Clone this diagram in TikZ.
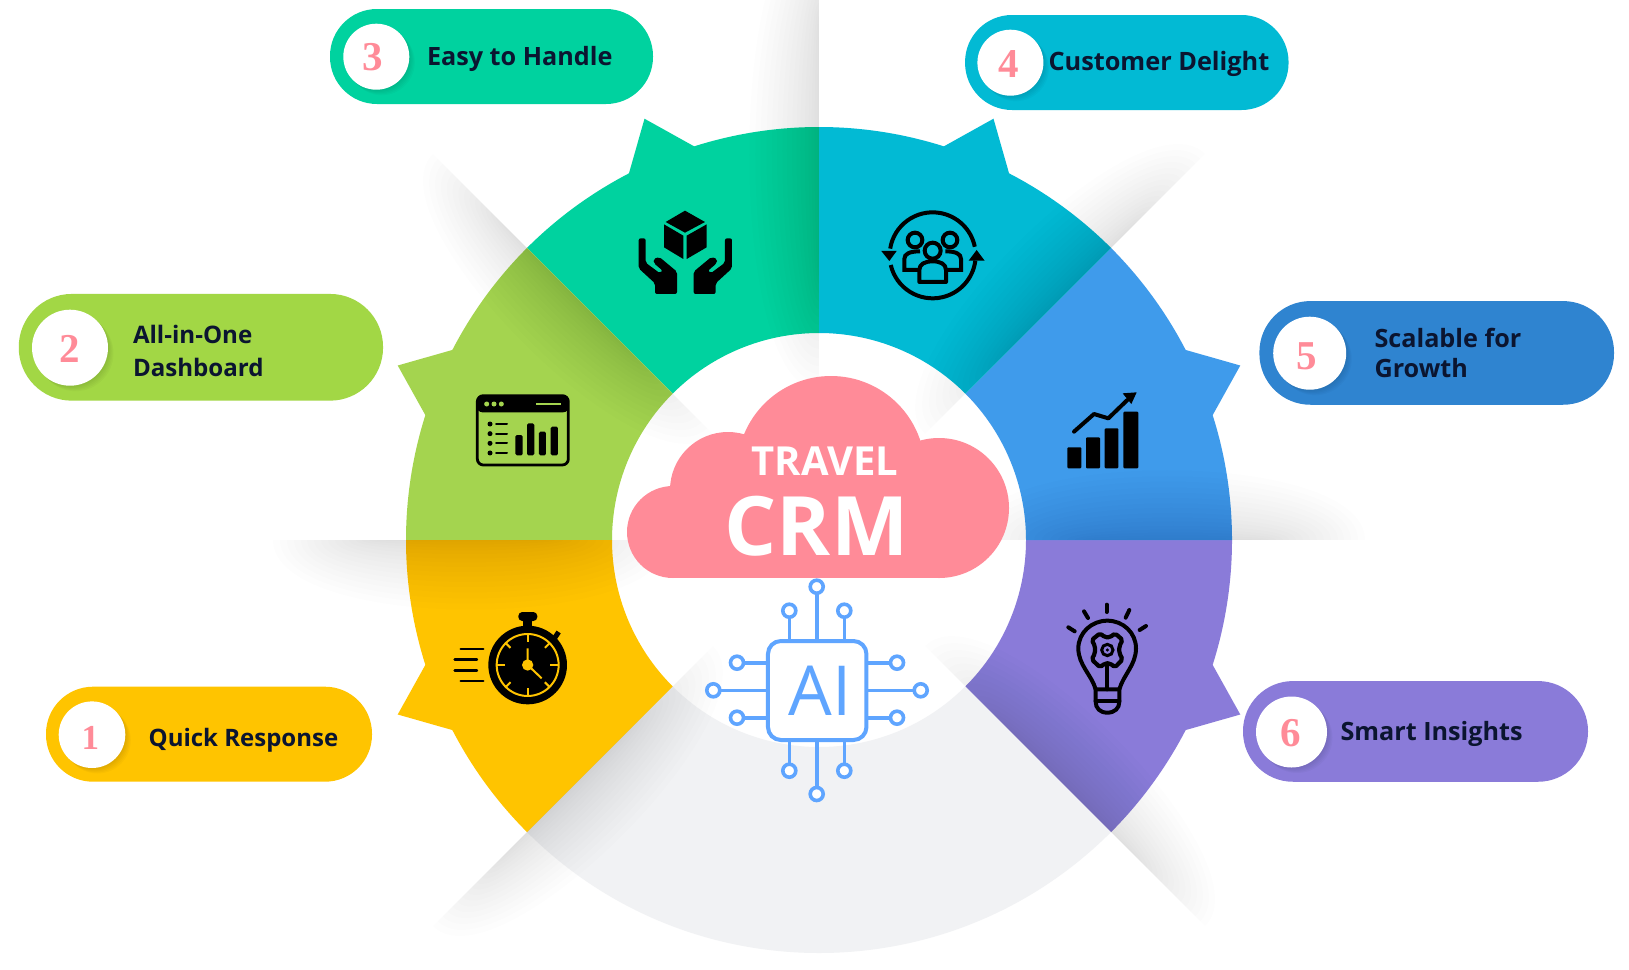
\documentclass[tikz,border=0pt]{standalone}
\usepackage{fontspec}
\setmainfont{Open Sans}
\newfontfamily\numfont{Liberation Serif}
\definecolor{cgreen}{HTML}{00D29F}
\definecolor{ccyan}{HTML}{02BAD4}
\definecolor{clime}{HTML}{A4D44F}
\definecolor{climep}{HTML}{A2D745}
\definecolor{csky}{HTML}{3F9BEB}
\definecolor{cblue}{HTML}{2F84D0}
\definecolor{cyell}{HTML}{FFC400}
\definecolor{cpurp}{HTML}{8A7BD9}
\definecolor{cgrey}{HTML}{F1F2F4}
\definecolor{cpink}{HTML}{FF8B98}
\definecolor{cnavy}{HTML}{0B1530}
\definecolor{cai}{HTML}{5FA5FF}
\tikzset{
  pillbox/.style={rectangle,inner sep=0pt,outer sep=0pt,draw=none},
  badge/.style={circle,fill=white,inner sep=0pt,outer sep=0pt,draw=none},
  digit/.style={inner sep=0pt,outer sep=0pt,text=cpink,font=\numfont\bfseries\fontsize{#1}{#1}\selectfont},
  lab/.style={anchor=base west,inner sep=0pt,outer sep=0pt,text=cnavy,font=\bfseries\fontsize{#1}{30}\selectfont},
  pinnode/.style={circle,draw=cai,fill=white,line width=3.6pt,minimum size=13pt,inner sep=0pt,outer sep=0pt},
  wire/.style={draw=cai,line width=3.6pt},
  ink/.style={line width=#1,draw=black,line cap=round,line join=round},
}
% sector with a spike in its middle; centre is the origin of the scope
\newcommand{\sectorshape}[2]{%
  \fill[#2] (#1:207) -- (#1:413)
    arc[start angle=#1,end angle={#1+17.6},radius=413]
    -- ({#1+22.5}:456) -- ({#1+27.4}:413)
    arc[start angle={#1+27.4},end angle={#1+45},radius=413]
    -- ({#1+45}:207)
    arc[start angle={#1+45},end angle=#1,radius=207] -- cycle;}
% soft shadow lens beside a radial line
\newcommand{\softshade}[3]{%
  \foreach \k in {1,...,16}{%
    \pgfmathsetmacro{\ff}{\k/16}%
    \pgfmathsetmacro{\ra}{150+(1-\ff)*130}%
    \pgfmathsetmacro{\rb}{#2-(1-\ff)*110}%
    \pgfmathsetmacro{\hh}{#3*\ff^1.35}%
    \fill[black,opacity=0.0072]
      ({\ra*cos(#1)},{\ra*sin(#1)})
      .. controls ({\ra*cos(#1)+\hh*sin(#1)},{\ra*sin(#1)-\hh*cos(#1)})
      and ({\rb*cos(#1)+\hh*sin(#1)},{\rb*sin(#1)-\hh*cos(#1)})
      .. ({\rb*cos(#1)},{\rb*sin(#1)}) -- cycle;
  }}
\newcommand{\pillitem}[8]{%
  \node[pillbox,fill=#6,minimum width=#4pt,minimum height=#5pt,rounded corners=#7pt] (#1) at (#2,#3) {};
  #8}
\newcommand{\badgeitem}[4]{%
  \foreach \k in {1,...,5}{\fill[black,opacity=0.022] ({#2+1.1*\k},{#3+1.1*\k}) circle[radius=#4];}
  \node[badge,minimum size=#4*2pt] (#1) at (#2,#3) {};}
\begin{document}
\begin{tikzpicture}[x=1pt,y=-1pt]
\useasboundingbox (0,0) rectangle (1629,969);
\clip (0,0) rectangle (1629,969);
\fill[white] (0,0) rectangle (1629,969);

\begin{scope}[shift={(819,540)}]
  \fill[cgrey] (45:207) -- (45:413) arc[start angle=45,end angle=135,radius=413]
     -- (135:207) arc[start angle=135,end angle=45,radius=207] -- cycle;
  \sectorshape{225}{cgreen}
  \sectorshape{180}{clime}
  \sectorshape{135}{cyell}
  \sectorshape{0}{cpurp}
  \sectorshape{315}{csky}
  \sectorshape{270}{ccyan}
  \softshade{270}{620}{93}
  \softshade{225}{546}{93}
  \softshade{180}{546}{93}
  \softshade{135}{546}{93}
  \softshade{45}{546}{93}
  \softshade{0}{546}{93}
  \softshade{315}{546}{93}
\end{scope}

% pills
\pillitem{p3}{491.5}{56.5}{323}{95}{cgreen}{47}{\badgeitem{b3}{376.3}{56.7}{33}}
\pillitem{p2}{200.9}{347.3}{364.3}{106.7}{climep}{53}{\badgeitem{b2}{70}{347.7}{38}}
\pillitem{p4}{1126.8}{62.5}{323.5}{95}{ccyan}{47}{\badgeitem{b4}{1010.4}{62.7}{33}}
\pillitem{p5}{1436.7}{352.9}{354.6}{103.7}{cblue}{51}{\badgeitem{b5}{1309.7}{353.2}{36.5}}
\pillitem{p1}{209}{734.2}{326}{95}{cyell}{47}{\badgeitem{b1}{92}{734.7}{33.3}}
\pillitem{p6}{1415.5}{731.4}{345}{100.7}{cpurp}{50}{\badgeitem{b6}{1291.5}{732}{35.5}}

\node[digit=41] (d3) at (372.5,57.5) {3};
\node[digit=41] (d2) at (69.6,349) {2};
\node[digit=41] (d4) at (1008.5,64) {4};
\node[digit=41] (d5) at (1306.5,356.7) {5};
\node[digit=35] (d1) at (90.4,738) {1};
\node[digit=41] (d6) at (1290.5,733.3) {6};

\node[lab=25.2] (t3) at (427,65) {Easy to Handle};
\node[lab=24.1] (t2a) at (133,343.5) {All-in-One};
\node[lab=24.1] (t2b) at (133,376) {Dashboard};
\node[lab=25.3] (t4) at (1048.5,70.5) {Customer Delight};
\node[lab=25.2] (t5a) at (1374.5,347) {Scalable for};
\node[lab=25.2] (t5b) at (1374.5,377) {Growth};
\node[lab=24] (t1) at (148.7,746) {Quick Response};
\node[lab=25.2] (t6) at (1340.5,740.5) {Smart Insights};

% cloud
\fill[cpink] (831,470) circle[radius=94];
\fill[cpink] (728,490) circle[radius=58];
\fill[cpink] (673,532) circle[radius=46];
\fill[cpink] (939,508) circle[radius=70];
\fill[cpink] (673,480) rectangle (939,578);
\node[inner sep=0pt,text=white,font=\bfseries\fontsize{40}{40}\selectfont] (travel) at (825,461.5) {TRAVEL};
\node[inner sep=0pt,text=white,font=\bfseries\fontsize{82}{82}\selectfont] (crm) at (816.5,526.5) {CRM};

% AI chip
\node[rectangle,draw=cai,fill=white,line width=4pt,rounded corners=13pt,minimum width=98.5pt,minimum height=99pt,inner sep=0pt,outer sep=0pt,text=cai,font=\fontsize{69}{69}\selectfont] (chip) at (817.2,690.5) {\hspace*{6pt}AI};
\node[pinnode] (pt1) at (816.7,586.7) {};
\node[pinnode] (pt2) at (789.3,610.7) {};
\node[pinnode] (pt3) at (844.3,610.7) {};
\node[pinnode] (pb1) at (816.7,794) {};
\node[pinnode] (pb2) at (789.3,770.7) {};
\node[pinnode] (pb3) at (844.3,770.7) {};
\node[pinnode] (pl1) at (713.3,690.3) {};
\node[pinnode] (pl2) at (737,662.7) {};
\node[pinnode] (pl3) at (737,717.7) {};
\node[pinnode] (pr1) at (920.7,690.3) {};
\node[pinnode] (pr2) at (897,662.7) {};
\node[pinnode] (pr3) at (897,717.7) {};
\foreach \p in {pt1,pt2,pt3}{\draw[wire] (\p) -- (\p |- chip.north);}
\foreach \p in {pb1,pb2,pb3}{\draw[wire] (\p) -- (\p |- chip.south);}
\foreach \p in {pl1,pl2,pl3}{\draw[wire] (\p) -- (\p -| chip.west);}
\foreach \p in {pr1,pr2,pr3}{\draw[wire] (\p) -- (\p -| chip.east);}

% icon: hands and box
\begin{scope}[shift={(600,190)},x=0.3333pt,y=-0.3333pt]
  \fill[black] (255,62) -- (315,96) -- (255,128) -- (197,96) -- cycle;
  \fill[black] (192,103) -- (250,137) -- (250,207) -- (192,172) -- cycle;
  \fill[black] (260,137) -- (320,103) -- (320,172) -- (260,207) -- cycle;
  \foreach \sx/\ox in {1/0,-1/512}{
    \fill[black,rounded corners=2pt]
      ({\ox+\sx*116},145) -- ({\ox+\sx*116},235) -- ({\ox+\sx*165},280) -- ({\ox+\sx*165},312)
      -- ({\ox+\sx*231},312) -- ({\ox+\sx*231},245) -- ({\ox+\sx*178},201) -- ({\ox+\sx*160},207)
      -- ({\ox+\sx*162},220) -- ({\ox+\sx*188},242) -- ({\ox+\sx*180},250) -- ({\ox+\sx*137},218)
      -- ({\ox+\sx*137},145) -- cycle;
  }
\end{scope}

% icon: team in a cycle
\begin{scope}[shift={(860,190)},x=0.3333pt,y=-0.3333pt]
  \draw[line width=4pt,draw=black] (218,196) ++(189:129) arc[start angle=189,end angle=348.5,radius=129];
  \draw[line width=4pt,draw=black] (218,196) ++(167:129) arc[start angle=167,end angle=7,radius=129];
  \fill[black] (64,183) -- (110,183) -- (88,213) -- cycle;
  \fill[black] (326,212) -- (374,212) -- (350,180) -- cycle;
  \begin{scope}[line width=4pt,draw=black]
    \draw (218,182) circle[radius=24];
    \draw (165,150) circle[radius=22];
    \draw (270,150) circle[radius=22];
    \draw[line join=round] (178,276) -- (178,240) .. controls (178,222) and (195,214) .. (218,214)
      .. controls (241,214) and (258,222) .. (258,240) -- (258,276) -- cycle;
    \draw (176,240) -- (133,240) -- (133,207) .. controls (133,192) and (148,184) .. (180,184);
    \draw (260,240) -- (303,240) -- (303,207) .. controls (303,192) and (288,184) .. (256,184);
  \end{scope}
\end{scope}

% icon: dashboard
\begin{scope}[shift={(460,380)},x=0.3333pt,y=-0.3333pt]
  \draw[line width=2.8pt,draw=black,rounded corners=6pt] (52,47) rectangle (325,255);
  \fill[black,rounded corners=6pt] (50,45) -- (327,45) -- (327,97) -- (50,97) -- cycle;
  \foreach \x in {80,102,124}{\fill[clime] (\x,72) circle[radius=7.5];}
  \draw[clime,line width=2.4pt] (228,72) -- (302,72);
  \foreach \y in {132,161,190,219}{
    \fill[black] (90,\y) circle[radius=7.5];
    \draw[ink=2pt] (108,\y) -- (141,\y);
  }
  \fill[black,rounded corners=1.5pt] (166,165) rectangle (188,226);
  \fill[black,rounded corners=1.5pt] (201,130) rectangle (223,226);
  \fill[black,rounded corners=1.5pt] (237,155) rectangle (258,226);
  \fill[black,rounded corners=1.5pt] (272,140) rectangle (294,226);
\end{scope}

% icon: growth chart
\begin{scope}[shift={(1050,380)},x=0.3333pt,y=-0.3333pt]
  \fill[black,rounded corners=1pt] (52,202) rectangle (94,265);
  \fill[black,rounded corners=1pt] (108,172) rectangle (150,265);
  \fill[black,rounded corners=1pt] (164,145) rectangle (205,265);
  \fill[black,rounded corners=1pt] (220,95) rectangle (265,265);
  \draw[ink=4pt] (72,155) -- (132,102) -- (175,115) -- (232,60);
  \fill[black] (218,40) -- (260,37) -- (244,72) -- cycle;
\end{scope}

% icon: stopwatch
\begin{scope}[shift={(440,590)},x=0.3333pt,y=-0.3333pt]
  \fill[black] (263,225) circle[radius=118];
  \fill[black] (250,90) rectangle (276,115);
  \fill[black,rounded corners=4pt] (235,66) rectangle (292,93);
  \draw[black,line width=5pt] (340,150) -- (356,126);
  \draw[cyell,line width=2pt] (263,225) circle[radius=93];
  \foreach \a in {0,90,180,270}{\draw[cyell,line width=2pt] (263,225) ++(\a:93) -- ++({\a+180}:25);}
  \foreach \a in {45,135,225,315}{\draw[cyell,line width=2pt] (263,225) ++(\a:93) -- ++({\a+180}:20);}
  \draw[cyell,line width=2pt] (263,175) -- (263,225) -- (305,265);
  \fill[cyell] (263,225) circle[radius=17];
  \draw[ink=2.4pt] (62,177) -- (130,177);
  \draw[ink=2.4pt] (44,209) -- (111,209);
  \draw[ink=2.4pt] (44,241) -- (111,241);
  \draw[ink=2.4pt] (62,273) -- (130,273);
\end{scope}

% icon: light bulb
\begin{scope}[shift={(1050,590)},x=0.3333pt,y=-0.3333pt]
  \draw[ink=4pt] (170,44) -- (170,66);
  \draw[ink=4pt] (102,64) -- (114,84);
  \draw[ink=4pt] (238,60) -- (227,83);
  \draw[ink=4pt] (55,112) -- (74,124);
  \draw[ink=4pt] (288,108) -- (269,120);
  \draw[ink=4pt] (137,298) .. controls (125,255) and (85,225) .. (85,175)
     .. controls (85,128) and (125,92) .. (172,92) .. controls (219,92) and (258,128) .. (258,175)
     .. controls (258,225) and (220,255) .. (208,298) -- cycle;
  \draw[ink=4pt] (137,298) -- (137,335) .. controls (137,355) and (150,368) .. (172,368)
     .. controls (194,368) and (208,355) .. (208,335) -- (208,298);
  \draw[ink=4pt] (137,333) -- (208,333);
  \draw[ink=4pt] (172,222) -- (172,298);
  \draw[ink=4.2pt,rounded corners=2pt] (150,130) -- (165,142) -- (180,142) -- (195,130) -- (218,150)
     -- (208,168) -- (208,190) -- (218,208) -- (195,232) -- (180,220) -- (165,220) -- (150,232)
     -- (125,208) -- (135,190) -- (135,168) -- (125,150) -- cycle;
  \draw[line width=3pt,draw=black] (172,180) circle[radius=17];
  \fill[black] (172,180) circle[radius=5];
\end{scope}
\end{tikzpicture}
\end{document}
